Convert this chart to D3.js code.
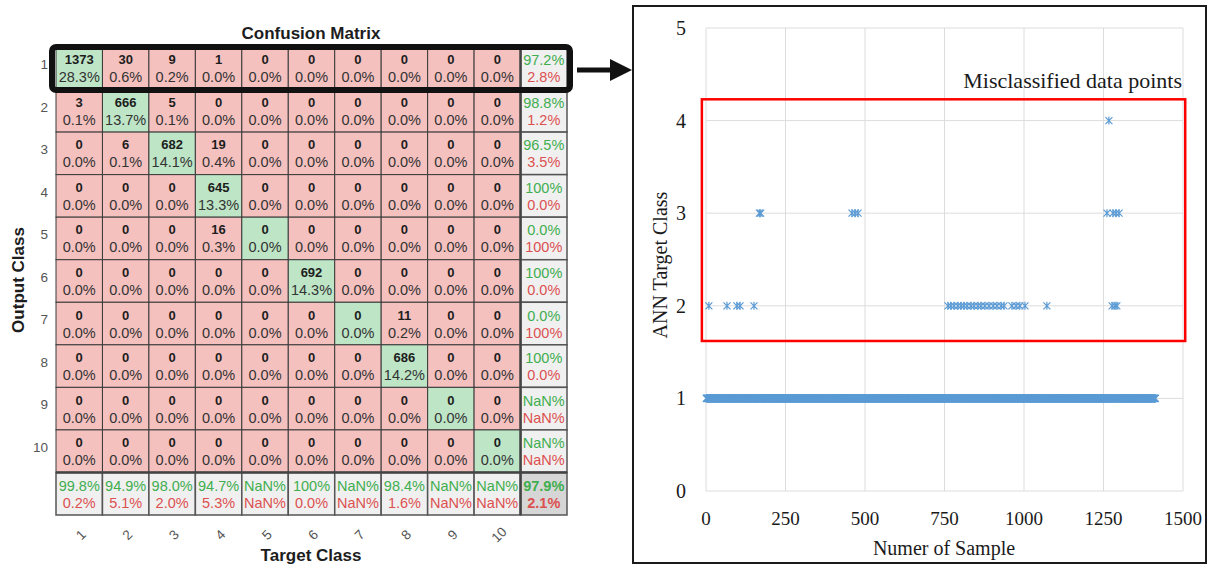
<!DOCTYPE html>
<html>
<head>
<meta charset="utf-8">
<script src="https://cdn.jsdelivr.net/npm/d3@7"></script>
<style>
  body { margin: 0; background: #fff; }
  svg { display: block; }
</style>
</head>
<body>
<div id="chart"></div>
<script>
const svgWidth = 1209
const svgHeight = 567

// confusion matrix counts, rows = output class, cols = target class
const classes = ["1", "2", "3", "4", "5", "6", "7", "8", "9", "10"]
const matrix = [
  [1373, 30, 9, 1, 0, 0, 0, 0, 0, 0],
  [3, 666, 5, 0, 0, 0, 0, 0, 0, 0],
  [0, 6, 682, 19, 0, 0, 0, 0, 0, 0],
  [0, 0, 0, 645, 0, 0, 0, 0, 0, 0],
  [0, 0, 0, 16, 0, 0, 0, 0, 0, 0],
  [0, 0, 0, 0, 0, 692, 0, 0, 0, 0],
  [0, 0, 0, 0, 0, 0, 0, 11, 0, 0],
  [0, 0, 0, 0, 0, 0, 0, 686, 0, 0],
  [0, 0, 0, 0, 0, 0, 0, 0, 0, 0],
  [0, 0, 0, 0, 0, 0, 0, 0, 0, 0]
]

// scatter: sample indices of output class 1 whose target class is 2, 3, 4
const sampleCount = 1413
const targetClass2 = [9, 66, 97, 107, 151, 761, 770, 780, 792, 802, 811, 821, 833, 843, 855,
  865, 877, 890, 903, 915, 928, 937, 962, 975, 987, 1003, 1072, 1277, 1286, 1292]
const targetClass3 = [168, 172, 459, 469, 478, 1261, 1280, 1289, 1299]
const targetClass4 = [1267]
const xTicks = [0, 250, 500, 750, 1000, 1250, 1500]
const yTicks = [0, 1, 2, 3, 4, 5]

let svg = d3.select("#chart")
  .append("svg")
  .attr("width", svgWidth)
  .attr("height", svgHeight)

svg.append("rect").attr("width", svgWidth).attr("height", svgHeight).attr("fill", "#fff")

/* ---------------- confusion matrix ---------------- */
const n = classes.length
let cmX = d3.scaleBand().domain(d3.range(n + 1)).range([56, 567])
let cmY = d3.scaleBand().domain(d3.range(n + 1)).range([47, 515])

const total = d3.sum(matrix.flat())
const rowSums = matrix.map(r => d3.sum(r))
const colSums = classes.map((c, j) => d3.sum(matrix, r => r[j]))
const diagSum = d3.sum(matrix, (r, i) => r[i])

function fmtPct(v) {
  if (isNaN(v)) return "NaN%"
  if (v === 100) return "100%"
  return v.toFixed(1) + "%"
}

let cells = []
matrix.forEach((row, i) => row.forEach((v, j) => cells.push({ i, j, v })))

let cm = svg.append("g").attr("font-family", "Liberation Sans, Arial, sans-serif")

cm.selectAll("rect.cell")
  .data(cells)
  .enter()
  .append("rect")
  .attr("x", d => cmX(d.j))
  .attr("y", d => cmY(d.i))
  .attr("width", cmX.bandwidth())
  .attr("height", cmY.bandwidth())
  .attr("fill", d => d.i === d.j ? "#bde5c6" : "#f5c1bf")
  .attr("stroke", "#3a3a3a")
  .attr("stroke-width", 1)

cm.selectAll("text.count")
  .data(cells)
  .enter()
  .append("text")
  .attr("x", d => cmX(d.j) + cmX.bandwidth() / 2)
  .attr("y", d => cmY(d.i) + cmY.bandwidth() / 2 - 4)
  .attr("text-anchor", "middle")
  .attr("font-size", "13px")
  .attr("font-weight", "bold")
  .attr("fill", "#1d1d1d")
  .text(d => d.v)

cm.selectAll("text.pct")
  .data(cells)
  .enter()
  .append("text")
  .attr("x", d => cmX(d.j) + cmX.bandwidth() / 2)
  .attr("y", d => cmY(d.i) + cmY.bandwidth() / 2 + 14)
  .attr("text-anchor", "middle")
  .attr("font-size", "14.5px")
  .attr("fill", "#333")
  .text(d => fmtPct(d.v / total * 100))

// summary cells: right column (per output class) and bottom row (per target class)
let summary = []
rowSums.forEach((s, i) => summary.push({ i, j: n, good: matrix[i][i] / s * 100 }))
colSums.forEach((s, j) => summary.push({ i: n, j, good: matrix[j][j] / s * 100 }))
summary.push({ i: n, j: n, good: diagSum / total * 100, all: true })

cm.selectAll("rect.sum")
  .data(summary)
  .enter()
  .append("rect")
  .attr("x", d => cmX(d.j))
  .attr("y", d => cmY(d.i))
  .attr("width", cmX.bandwidth())
  .attr("height", cmY.bandwidth())
  .attr("fill", d => d.all ? "#d6d6d6" : "#f0f0f0")
  .attr("stroke", "#555")
  .attr("stroke-width", 1.5)

cm.selectAll("text.good")
  .data(summary)
  .enter()
  .append("text")
  .attr("x", d => cmX(d.j) + cmX.bandwidth() / 2)
  .attr("y", d => cmY(d.i) + cmY.bandwidth() / 2 - 3)
  .attr("text-anchor", "middle")
  .attr("font-size", "14.5px")
  .attr("font-weight", d => d.all ? "bold" : "normal")
  .attr("fill", "#3fae4f")
  .text(d => fmtPct(d.good))

cm.selectAll("text.bad")
  .data(summary)
  .enter()
  .append("text")
  .attr("x", d => cmX(d.j) + cmX.bandwidth() / 2)
  .attr("y", d => cmY(d.i) + cmY.bandwidth() / 2 + 14)
  .attr("text-anchor", "middle")
  .attr("font-size", "14.5px")
  .attr("font-weight", d => d.all ? "bold" : "normal")
  .attr("fill", "#dc5050")
  .text(d => fmtPct(100 - d.good))

// heavier separators around the summary row / column
cm.append("line")
  .attr("x1", cmX(0)).attr("x2", cmX(n) + cmX.bandwidth())
  .attr("y1", cmY(n)).attr("y2", cmY(n))
  .attr("stroke", "#444").attr("stroke-width", 2.5)
cm.append("line")
  .attr("x1", cmX(n)).attr("x2", cmX(n))
  .attr("y1", cmY(0)).attr("y2", cmY(n) + cmY.bandwidth())
  .attr("stroke", "#444").attr("stroke-width", 2.5)

// row labels
cm.selectAll("text.rowlab")
  .data(classes)
  .enter()
  .append("text")
  .attr("x", 48)
  .attr("y", (d, i) => cmY(i) + cmY.bandwidth() / 2 - 4)
  .attr("dy", "0.35em")
  .attr("text-anchor", "end")
  .attr("font-size", "13.5px")
  .attr("fill", "#555")
  .text(d => d)

// column labels, rotated
cm.selectAll("text.collab")
  .data(classes)
  .enter()
  .append("text")
  .attr("transform", (d, j) => `translate(${cmX(j) + cmX.bandwidth() / 2 + 5}, 538) rotate(-45)`)
  .attr("text-anchor", "middle")
  .attr("font-size", "13.5px")
  .attr("fill", "#555")
  .text(d => d)

cm.append("text")
  .attr("x", 311).attr("y", 39)
  .attr("text-anchor", "middle")
  .attr("font-size", "17px").attr("font-weight", "bold")
  .attr("fill", "#1d1d1d")
  .text("Confusion Matrix")

cm.append("text")
  .attr("x", 311).attr("y", 561)
  .attr("text-anchor", "middle")
  .attr("font-size", "17px").attr("font-weight", "bold")
  .attr("fill", "#1d1d1d")
  .text("Target Class")

cm.append("text")
  .attr("transform", "translate(24, 280) rotate(-90)")
  .attr("text-anchor", "middle")
  .attr("font-size", "17px").attr("font-weight", "bold")
  .attr("fill", "#1d1d1d")
  .text("Output Class")

// highlight box around row 1 and arrow
svg.append("rect")
  .attr("x", 52).attr("y", 47)
  .attr("width", 518).attr("height", 43)
  .attr("rx", 4)
  .attr("fill", "none")
  .attr("stroke", "#111")
  .attr("stroke-width", 6)

svg.append("line")
  .attr("x1", 577).attr("x2", 612)
  .attr("y1", 70).attr("y2", 70)
  .attr("stroke", "#111").attr("stroke-width", 5)
svg.append("path")
  .attr("d", "M610,59 L632,70 L610,81 Z")
  .attr("fill", "#111")

/* ---------------- scatter of misclassified samples ---------------- */
svg.append("rect")
  .attr("x", 633).attr("y", 6)
  .attr("width", 573).attr("height", 557)
  .attr("fill", "none")
  .attr("stroke", "#1a1a1a")
  .attr("stroke-width", 2)

let x = d3.scaleLinear().domain([0, 1500]).range([706, 1183])
let y = d3.scaleLinear().domain([0, 5]).range([491, 28])

let plot = svg.append("g").attr("font-family", "Liberation Serif, Times New Roman, serif")

plot.selectAll("line.vgrid")
  .data(xTicks)
  .enter()
  .append("line")
  .attr("x1", d => x(d)).attr("x2", d => x(d))
  .attr("y1", y(0)).attr("y2", y(5))
  .attr("stroke", "#dcdcdc").attr("stroke-width", 1)

plot.selectAll("line.hgrid")
  .data(yTicks)
  .enter()
  .append("line")
  .attr("x1", x(0)).attr("x2", x(1500))
  .attr("y1", d => y(d)).attr("y2", d => y(d))
  .attr("stroke", "#dcdcdc").attr("stroke-width", 1)

plot.selectAll("text.xt")
  .data(xTicks)
  .enter()
  .append("text")
  .attr("x", d => x(d))
  .attr("y", 525)
  .attr("text-anchor", "middle")
  .attr("font-size", "19px")
  .attr("fill", "#1a1a1a")
  .text(d => d)

plot.selectAll("text.yt")
  .data(yTicks)
  .enter()
  .append("text")
  .attr("x", 686)
  .attr("y", d => y(d))
  .attr("dy", "0.35em")
  .attr("text-anchor", "end")
  .attr("font-size", "20px")
  .attr("fill", "#1a1a1a")
  .text(d => d)

plot.append("text")
  .attr("x", 944).attr("y", 555)
  .attr("text-anchor", "middle")
  .attr("font-size", "20px")
  .attr("fill", "#1a1a1a")
  .text("Numer of Sample")

plot.append("text")
  .attr("transform", "translate(667, 265) rotate(-90)")
  .attr("text-anchor", "middle")
  .attr("font-size", "20px")
  .attr("fill", "#1a1a1a")
  .text("ANN Target Class")

// points: class 1 are all samples not listed as misclassified
const misclassified = new Set([...targetClass2, ...targetClass3, ...targetClass4])
let points = []
d3.range(1, sampleCount + 1).forEach(s => { if (!misclassified.has(s)) points.push({ s, c: 1 }) })
targetClass2.forEach(s => points.push({ s, c: 2 }))
targetClass3.forEach(s => points.push({ s, c: 3 }))
targetClass4.forEach(s => points.push({ s, c: 4 }))

const star = "M-3.5,-3.5L3.5,3.5M-3.5,3.5L3.5,-3.5M0,-4L0,4"
plot.selectAll("path.pt")
  .data(points)
  .enter()
  .append("path")
  .attr("transform", d => `translate(${x(d.s)},${y(d.c)})`)
  .attr("d", star)
  .attr("fill", "none")
  .attr("stroke", "#5b9bd5")
  .attr("stroke-width", 1.2)

// annotation
plot.append("rect")
  .attr("x", x(-13)).attr("y", y(4.23))
  .attr("width", x(1507) - x(-13))
  .attr("height", y(1.62) - y(4.23))
  .attr("fill", "none")
  .attr("stroke", "#ff0000")
  .attr("stroke-width", 2.5)

plot.append("text")
  .attr("x", 1182).attr("y", 88)
  .attr("text-anchor", "end")
  .attr("font-size", "22px")
  .attr("fill", "#1a1a1a")
  .text("Misclassified data points")
</script>
</body>
</html>
